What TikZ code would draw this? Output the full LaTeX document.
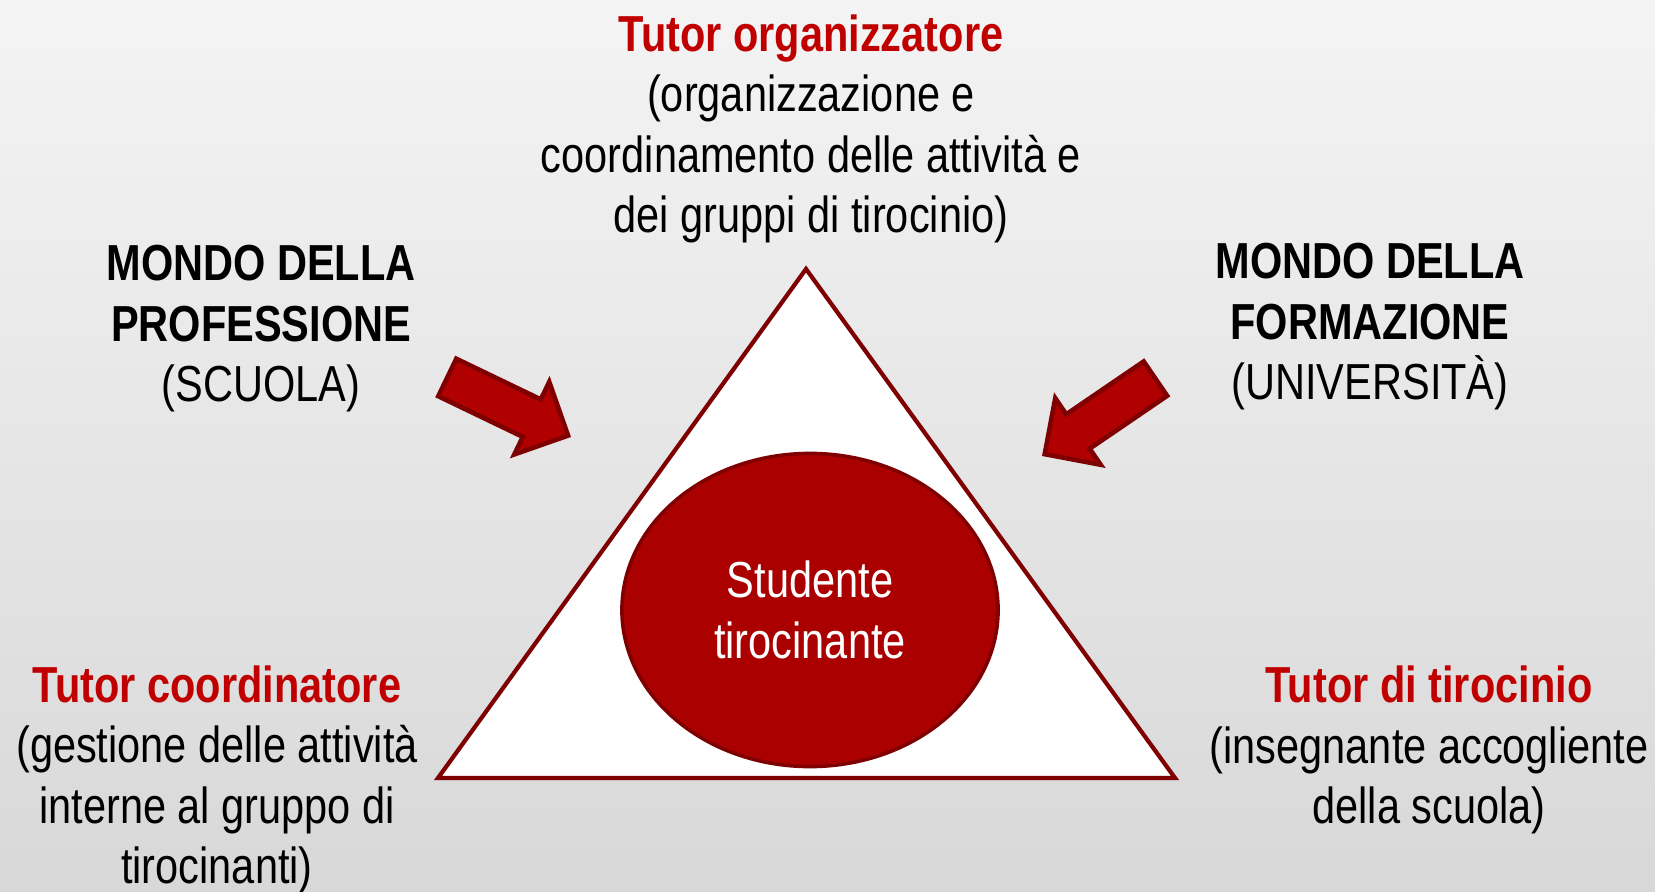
\documentclass[tikz,border=0pt]{standalone}
\usepackage{fontspec}
\setmainfont{Liberation Sans}[FakeStretch=0.82]
\usepackage{xcolor}
\usepackage{tikz}
\usetikzlibrary{shapes.geometric, shapes.arrows}
\definecolor{titelrot}{HTML}{C00000}
\definecolor{dunkelrot}{HTML}{7F0000}
\definecolor{kreisrot}{HTML}{AA0000}
\definecolor{pfeilrot}{HTML}{B00000}
\definecolor{bgoben}{HTML}{F4F4F4}
\definecolor{bgunten}{HTML}{D8D8D8}

\begin{document}
\begin{tikzpicture}[x=0.01cm, y=-0.01cm,
    every node/.style={font=\fontsize{14.4pt}{17.2pt}\selectfont, align=center, inner sep=0pt},
    pfeil/.style={single arrow, fill=pfeilrot, draw=dunkelrot, line width=1.3pt,
        minimum height=1.34cm, minimum width=0.76cm, inner sep=0.185cm,
        single arrow head extend=0.195cm}
]

  % Hintergrund
  \shade[top color=bgoben, bottom color=bgunten] (0,0) rectangle (1655,891);
  \useasboundingbox (0,0) rectangle (1655,891);

  % Dreieck
  \draw[draw=dunkelrot, fill=white, line width=1.2pt] (806,269) -- (438,778) -- (1175,778) -- cycle;

  % Studente in der Mitte
  \node[ellipse, fill=kreisrot, draw=dunkelrot, line width=1pt, minimum width=3.76cm,
        minimum height=3.13cm, text=white] (studente) at (810,610) {Studente\\tirocinante};

  % Pfeile
  \node[pfeil, rotate=-25.7, anchor=tip] (pfeilscuola) at (571,437) {};
  \node[pfeil, rotate=-145.7, anchor=tip] (pfeiluni) at (1042,456) {};

  % Die beiden Welten
  \node (scuola) at (261,329) {\textbf{MONDO DELLA}\\\textbf{PROFESSIONE}\\(SCUOLA)};
  \node (uni) at (1370,327) {\textbf{MONDO DELLA}\\\textbf{FORMAZIONE}\\(UNIVERSITÀ)};

  % Tutor
  \node (organizzatore) at (811,129) {\textcolor{titelrot}{\textbf{Tutor organizzatore}}\\(organizzazione e\\coordinamento delle attività e\\dei gruppi di tirocinio)};
  \node (coordinatore) at (217,780) {\textcolor{titelrot}{\textbf{Tutor coordinatore}}\\(gestione delle attività\\interne al gruppo di\\tirocinanti)};
  \node (tirocinio) at (1429,750) {\textcolor{titelrot}{\textbf{Tutor di tirocinio}}\\(insegnante accogliente\\della scuola)};

\end{tikzpicture}
\end{document}
